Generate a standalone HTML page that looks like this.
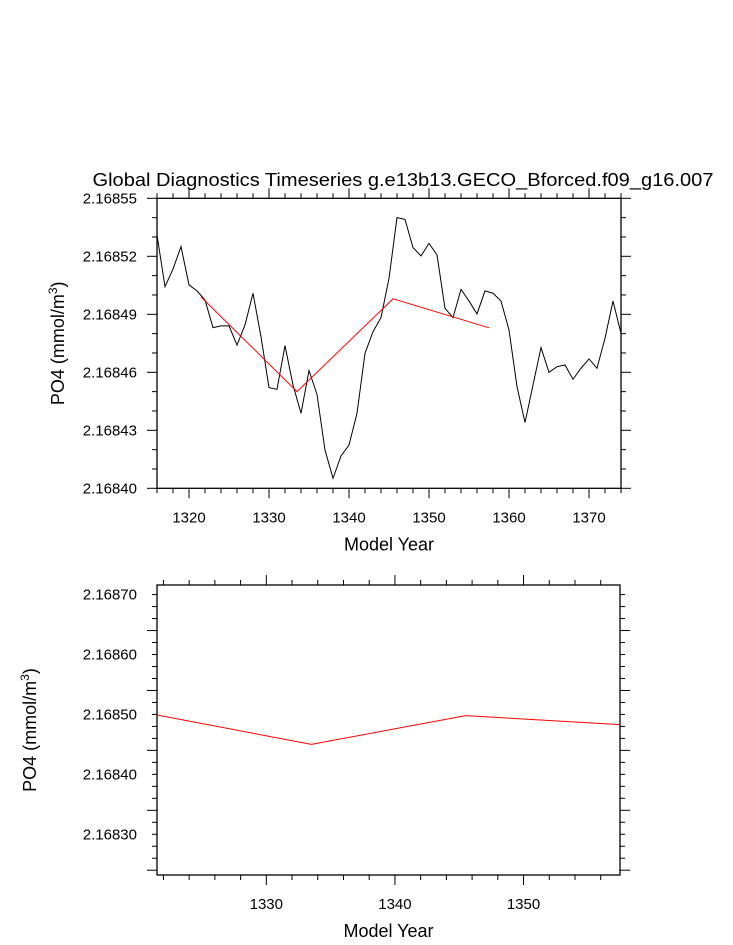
<!DOCTYPE html>
<html><head><meta charset="utf-8"><style>
html,body{margin:0;padding:0;background:#fff;}
svg{display:block;font-family:"Liberation Sans",Arial,sans-serif;}
</style></head><body>
<svg id="chart" width="733" height="945" viewBox="0 0 733 945" xmlns="http://www.w3.org/2000/svg">
<text x="403" y="186" font-size="18" text-anchor="middle" textLength="621" lengthAdjust="spacingAndGlyphs">Global Diagnostics Timeseries g.e13b13.GECO_Bforced.f09_g16.007</text>
<g id="topPanel"></g>
<g id="botPanel"></g>
</svg>
<script>
const annualYears = [];
for (let y = 1316; y <= 1374; y++) annualYears.push(y);
const annualValues = [13.10,10.43,11.34,12.50,10.52,10.21,9.74,8.31,8.40,8.40,7.41,8.45,10.09,7.84,5.21,5.12,7.38,5.34,3.88,6.09,4.86,1.98,0.52,1.67,2.24,3.88,6.98,8.10,8.83,10.86,14.00,13.91,12.45,12.02,12.67,12.07,9.31,8.83,10.29,9.69,9.02,10.21,10.09,9.69,8.19,5.26,3.40,5.34,7.28,6.00,6.29,6.38,5.64,6.21,6.69,6.21,7.76,9.69,8.02];
const decadalYears = [1321.5,1333.5,1345.5,1357.5];
const decadalValues = [2.168499,2.168450,2.168498,2.168483];
const topYTicks = ["2.16840","2.16843","2.16846","2.16849","2.16852","2.16855"];
const botYTicks = ["2.16830","2.16840","2.16850","2.16860","2.16870"];
const topXTicks = [1320,1330,1340,1350,1360,1370];
const botXTicks = [1330,1340,1350];

const NS = "http://www.w3.org/2000/svg";
function mk(parent, tag, attrs) {
  const e = document.createElementNS(NS, tag);
  for (const k in attrs) e.setAttribute(k, attrs[k]);
  parent.appendChild(e);
  return e;
}
function panel(g, o) {
  const {L,R,T,B,x0,x1,y0,y1} = o;
  const sx = v => L + (v - x0) / (x1 - x0) * (R - L);
  const sy = v => B - (v - y0) / (y1 - y0) * (B - T);
  const f = mk(g,'rect',{x:L,y:T,width:R-L,height:B-T,fill:'none',stroke:'#000','stroke-width':1.3});
  
  
  for (let v = Math.ceil(x0 / o.xMinor) * o.xMinor; v <= x1 + 1e-9; v += o.xMinor) {
    const major = Math.abs(v % o.xMajor) < 1e-6;
    const len = major ? 10 : 5, x = sx(v);
    mk(g,'line',{x1:x,x2:x,y1:B,y2:B+len,stroke:'#000','stroke-width':1});
    mk(g,'line',{x1:x,x2:x,y1:T,y2:T-len,stroke:'#000','stroke-width':1});
  }
  o.xTicks.forEach(v => {
    const t = mk(g,'text',{x:sx(v),y:B+34,'font-size':15,'text-anchor':'middle'});
    t.textContent = v;
    
    
  });
  const n = Math.round((y1 - o.yStart) / o.yMinor);
  for (let i = 0; i <= n + 1; i++) {
    const v = o.yStart + i * o.yMinor;
    if (v < y0 - 1e-12 || v > y1 + 1e-12) continue;
    const major = i % o.yRatio === 0;
    const len = major ? 10 : 5, y = sy(v);
    mk(g,'line',{x1:L,x2:L-len,y1:y,y2:y,stroke:'#000','stroke-width':1});
    mk(g,'line',{x1:R,x2:R+len,y1:y,y2:y,stroke:'#000','stroke-width':1});
  }
  o.yTicks.forEach(s => {
    const t = mk(g,'text',{x:137,y:sy(parseFloat(s))+5,'font-size':15,'text-anchor':'end'});
    t.textContent = s;
    
    
  });
  const xt = mk(g,'text',{x:(L+R)/2,y:B+62,'font-size':18,'text-anchor':'middle'});
  xt.textContent = 'Model Year';
  
  
  const cy = (T+B)/2;
  const yt = mk(g,'text',{x:o.ytx,y:cy,'font-size':18,'text-anchor':'middle',transform:`rotate(-90 ${o.ytx} ${cy})`});
  yt.innerHTML = 'PO4 (mmol/m<tspan dy="-7" font-size="12">3</tspan><tspan dy="7">)</tspan>';
  
  
  return {sx, sy};
}
const topPanel = document.getElementById('topPanel');
const pa = panel(topPanel,{L:157,R:621,T:198.3,B:488.3,x0:1316,x1:1374,y0:2.16840,y1:2.16855,
  xMinor:2,xMajor:10,xTicks:topXTicks,yStart:2.16840,yMinor:0.00001,yRatio:3,yTicks:topYTicks,ytx:64});
const pb = annualYears.map((y,i)=>pa.sx(y).toFixed(2)+','+pa.sy(2.16840+annualValues[i]*1e-5).toFixed(2)).join(' ');
const black = mk(topPanel,'polyline',{points:pb,fill:'none',stroke:'#000','stroke-width':1});


const pr = decadalYears.map((y,i)=>pa.sx(y).toFixed(2)+','+pa.sy(decadalValues[i]).toFixed(2)).join(' ');
const red = mk(topPanel,'polyline',{points:pr,fill:'none',stroke:'#ff0000','stroke-width':1});



const botPanel = document.getElementById('botPanel');
const pbm = panel(botPanel,{L:157,R:620,T:585,B:875,x0:1321.5,x1:1357.5,y0:2.168232,y1:2.168716,
  xMinor:2,xMajor:10,xTicks:botXTicks,yStart:2.16824,yMinor:0.00002,yRatio:5,yTicks:botYTicks,ytx:36});
const pr2 = decadalYears.map((y,i)=>pbm.sx(y).toFixed(2)+','+pbm.sy(decadalValues[i]).toFixed(2)).join(' ');
const red2 = mk(botPanel,'polyline',{points:pr2,fill:'none',stroke:'#ff0000','stroke-width':1});


</script>
</body></html>
